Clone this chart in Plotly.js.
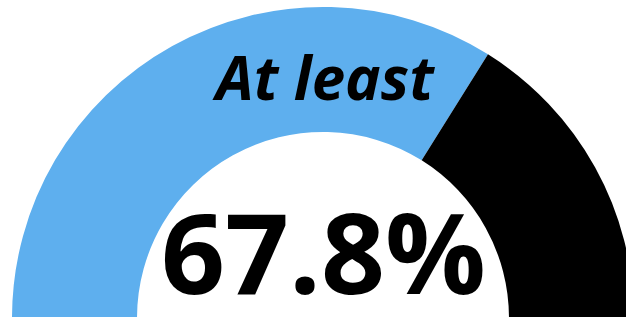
<!DOCTYPE html>
<html>
<head>
<meta charset="utf-8">
<script src="https://cdn.plot.ly/plotly-3.0.1.min.js"></script>
<style>
html, body { margin: 0; padding: 0; overflow: hidden; width: 626px; height: 317px; background: #fff; }
#chart { width: 646px; height: 636px; }
</style>
</head>
<body>
<div id="chart"></div>
<script>
const labels = ['At least', 'Remainder', 'Hidden'];
const shareValue = 67.8;
const remainderValue = 32.2;
const totalValue = 100;
const values = [shareValue, remainderValue, totalValue];
const colors = ['#5EAFEE', '#000000', 'rgba(0,0,0,0)'];
const topLabel = 'At least';
const bigLabel = shareValue.toFixed(1) + '%';

const trace = {
  type: 'pie',
  labels: labels,
  values: values,
  sort: false,
  direction: 'clockwise',
  rotation: -90,
  hole: 0.598,
  textinfo: 'none',
  hoverinfo: 'none',
  showlegend: false,
  marker: { colors: colors, line: { width: 0 } }
};

const layout = {
  width: 646,
  height: 636,
  margin: { l: 12, r: 12, t: 7, b: 7, pad: 0 },
  paper_bgcolor: '#ffffff',
  plot_bgcolor: '#ffffff',
  showlegend: false,
  annotations: [
    {
      text: topLabel,
      xref: 'paper', yref: 'paper',
      x: 0.5, y: 0.887,
      xanchor: 'center', yanchor: 'middle',
      showarrow: false,
      font: { family: 'Open Sans', size: 60, color: '#000000', weight: 700, style: 'italic' }
    },
    {
      text: bigLabel,
      xref: 'paper', yref: 'paper',
      x: 0.5, y: 0.608,
      xanchor: 'center', yanchor: 'middle',
      showarrow: false,
      font: { family: 'Open Sans', size: 112, color: '#000000', weight: 700 }
    }
  ]
};

Plotly.newPlot('chart', [trace], layout, { displayModeBar: false, staticPlot: true });
</script>
</body>
</html>
